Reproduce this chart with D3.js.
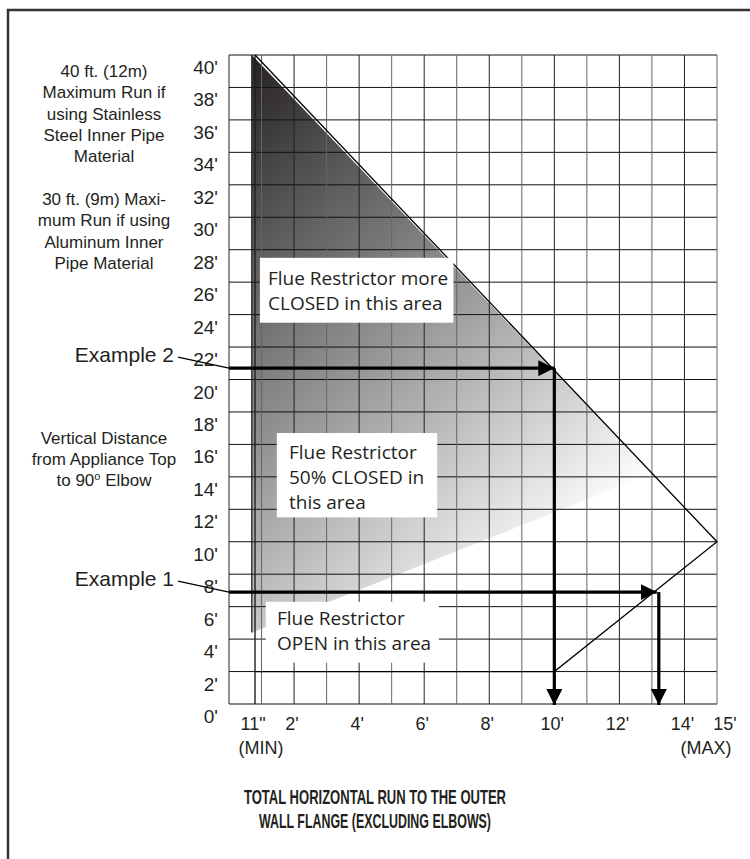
<!DOCTYPE html>
<html>
<head>
<meta charset="utf-8">
<script src="https://cdn.jsdelivr.net/npm/d3@7"></script>
<style>
  body { margin: 0; background: #fff; }
  text { font-family: "Liberation Sans", Arial, sans-serif; fill: #231f20; }
  .box-text { font-family: "Open Sans", "Noto Sans", sans-serif; font-size: 19px; }
</style>
</head>
<body>
<div id="chart"></div>
<script>
// chart values (feet)
var xTickValues = [0.8, 2, 4, 6, 8, 10, 12, 14, 15];
var xTickLabels = ["11\"", "2'", "4'", "6'", "8'", "10'", "12'", "14'", "15'"];
var yTickValues = [0, 2, 4, 6, 8, 10, 12, 14, 16, 18, 20, 22, 24, 26, 28, 30, 32, 34, 36, 38, 40];
var yTickLabels = ["0'", "2'", "4'", "6'", "8'", "10'", "12'", "14'", "16'", "18'", "20'", "22'", "24'", "26'", "28'", "30'", "32'", "34'", "36'", "38'", "40'"];

// allowed area outline: horizontal run vs vertical rise
var limitRun = [0.8, 15, 10, 0.8];
var limitRise = [40, 10, 2, 2];

// shaded "more closed / 50% closed" zone
var shadeRun = [0.7, 13, 0.7];
var shadeRise = [40, 14.2, 4.4];

// worked examples
var exampleNames = ["Example 1", "Example 2"];
var exampleRise = [6.9, 20.7];
var exampleRun = [13.15, 10];

var svgWidth = 750;
var svgHeight = 859;

var margin = { top: 55, right: 33, bottom: 155, left: 229 };
var width = svgWidth - margin.left - margin.right;
var height = svgHeight - margin.top - margin.bottom;

var svg = d3.select("#chart")
  .append("svg")
  .attr("width", svgWidth)
  .attr("height", svgHeight);

// outer frame runs off the right and bottom of the picture
svg.append("rect")
  .attr("x", 8).attr("y", 10)
  .attr("width", 780).attr("height", 900)
  .attr("fill", "none")
  .attr("stroke", "#333")
  .attr("stroke-width", 2.5);

var chartGroup = svg.append("g")
  .attr("transform", `translate(${margin.left}, ${margin.top})`);

var x = d3.scaleLinear().domain([0, 15]).range([0, width]);
var y = d3.scaleLinear().domain([0, 40]).range([height, 0]);

// gradient for the shaded zone
var defs = svg.append("defs");
var grad = defs.append("linearGradient")
  .attr("id", "shade")
  .attr("gradientUnits", "userSpaceOnUse")
  .attr("x1", x(0.75)).attr("y1", y(40))
  .attr("x2", x(12.5)).attr("y2", y(13.2));
grad.append("stop").attr("offset", 0).attr("stop-color", "#262223");
grad.append("stop").attr("offset", 0.55).attr("stop-color", "#9a9a9a");
grad.append("stop").attr("offset", 1).attr("stop-color", "#ffffff");

// arrow head
defs.append("marker")
  .attr("id", "arrow")
  .attr("markerUnits", "userSpaceOnUse")
  .attr("viewBox", "0 0 16 16")
  .attr("refX", 16).attr("refY", 8)
  .attr("markerWidth", 16).attr("markerHeight", 16)
  .attr("orient", "auto")
  .append("path")
  .attr("d", "M0,0L16,8L0,16Z")
  .attr("fill", "#000");

var shadeLine = d3.line().x(d => x(d[0])).y(d => y(d[1]));

chartGroup.append("path")
  .attr("d", shadeLine(d3.zip(shadeRun, shadeRise)) + "Z")
  .attr("fill", "url(#shade)");

chartGroup.append("line")
  .attr("x1", x(shadeRun[0])).attr("x2", x(shadeRun[2]))
  .attr("y1", y(shadeRise[0])).attr("y2", y(shadeRise[2]))
  .attr("stroke", "#3a3a3a")
  .attr("stroke-width", 1.5);

// grid
chartGroup.selectAll(".hgrid")
  .data(yTickValues)
  .enter()
  .append("line")
  .attr("class", "hgrid")
  .attr("x1", 0).attr("x2", width)
  .attr("y1", d => y(d)).attr("y2", d => y(d))
  .attr("stroke", "#111")
  .attr("stroke-width", 1);

chartGroup.selectAll(".vgrid")
  .data(d3.range(0, 16))
  .enter()
  .append("line")
  .attr("class", "vgrid")
  .attr("x1", d => x(d)).attr("x2", d => x(d))
  .attr("y1", 0).attr("y2", height)
  .attr("stroke", (d, i) => i % 2 ? "#666" : "#222")
  .attr("stroke-width", 1);

// minimum run line and outline of allowed area
chartGroup.append("line")
  .attr("x1", x(limitRun[0])).attr("x2", x(limitRun[0]))
  .attr("y1", y(0)).attr("y2", y(40))
  .attr("stroke", "#222")
  .attr("stroke-width", 1.4);

chartGroup.append("path")
  .attr("d", shadeLine(d3.zip(limitRun, limitRise)))
  .attr("fill", "none")
  .attr("stroke", "#000")
  .attr("stroke-width", 1.3);

// white note boxes
var notes = [
  { x0: 0.95, x1: 6.9, y0: 27.5, y1: 23.5, tx: 268, ty: 285, lines: ["Flue Restrictor more", "CLOSED in this area"] },
  { x0: 1.47, x1: 6.4, y0: 16.7, y1: 11.5, tx: 289, ty: 459, lines: ["Flue Restrictor", "50% CLOSED in", "this area"] },
  { x0: 1.13, x1: 6.45, y0: 6.3, y1: 2.55, tx: 277, ty: 625, lines: ["Flue Restrictor", "OPEN in this area"] }
];

notes.forEach(function(n) {
  chartGroup.append("rect")
    .attr("x", x(n.x0)).attr("y", y(n.y0))
    .attr("width", x(n.x1) - x(n.x0))
    .attr("height", y(n.y1) - y(n.y0))
    .attr("fill", "#fff");
  var t = svg.append("text")
    .attr("class", "box-text")
    .attr("x", n.tx).attr("y", n.ty);
  n.lines.forEach(function(l, i) {
    t.append("tspan").attr("x", n.tx).attr("dy", i ? 25 : 0).text(l);
  });
});

// example arrows
exampleNames.forEach(function(name, i) {
  var ey = y(exampleRise[i]);
  var ex = x(exampleRun[i]);

  chartGroup.append("line")
    .attr("x1", 0).attr("x2", ex)
    .attr("y1", ey).attr("y2", ey)
    .attr("stroke", "#000")
    .attr("stroke-width", 3.2)
    .attr("marker-end", "url(#arrow)");

  chartGroup.append("line")
    .attr("x1", ex + (i ? 0 : 2)).attr("x2", ex + (i ? 0 : 2))
    .attr("y1", ey).attr("y2", y(0) + 1)
    .attr("stroke", "#000")
    .attr("stroke-width", 3.2)
    .attr("marker-end", "url(#arrow)");

  svg.append("text")
    .attr("x", 174)
    .attr("y", margin.top + ey - 6)
    .attr("text-anchor", "end")
    .style("font-size", "21px")
    .text(name);

  svg.append("line")
    .attr("x1", 178).attr("y1", margin.top + ey - 11)
    .attr("x2", margin.left).attr("y2", margin.top + ey)
    .attr("stroke", "#000")
    .attr("stroke-width", 1.3);
});

// axis labels
chartGroup.selectAll(".ylab")
  .data(yTickValues)
  .enter()
  .append("text")
  .attr("class", "ylab")
  .attr("x", -11)
  .attr("y", d => y(d) + 19)
  .attr("text-anchor", "end")
  .style("font-size", "19px")
  .text((d, i) => yTickLabels[i]);

chartGroup.selectAll(".xlab")
  .data(xTickValues)
  .enter()
  .append("text")
  .attr("class", "xlab")
  .attr("x", (d, i) => x(d) + (i == xTickValues.length - 1 ? 8 : -2))
  .attr("y", height + 26)
  .attr("text-anchor", "middle")
  .style("font-size", "18px")
  .text((d, i) => xTickLabels[i]);

chartGroup.append("text")
  .attr("x", x(xTickValues[0]) + 6)
  .attr("y", height + 50)
  .attr("text-anchor", "middle")
  .style("font-size", "18px")
  .text("(MIN)");

chartGroup.append("text")
  .attr("x", x(15) - 11)
  .attr("y", height + 50)
  .attr("text-anchor", "middle")
  .style("font-size", "18px")
  .text("(MAX)");

// side notes
var sideNotes = [
  { y: 77, lines: ["40 ft. (12m)", "Maximum Run if", "using Stainless", "Steel Inner Pipe", "Material"] },
  { y: 205, lines: ["30 ft. (9m) Maxi-", "mum Run if using", "Aluminum Inner", "Pipe Material"] }
];
sideNotes.forEach(function(s) {
  var t = svg.append("text")
    .attr("x", 104).attr("y", s.y)
    .attr("text-anchor", "middle")
    .style("font-size", "17px");
  s.lines.forEach(function(l, i) {
    t.append("tspan").attr("x", 104).attr("dy", i ? 21.3 : 0).text(l);
  });
});

var vt = svg.append("text")
  .attr("x", 104).attr("y", 444)
  .attr("text-anchor", "middle")
  .style("font-size", "17px");
vt.append("tspan").attr("x", 104).text("Vertical Distance");
vt.append("tspan").attr("x", 104).attr("dy", 21).text("from Appliance Top");
vt.append("tspan").attr("x", 104).attr("dy", 21).text("to 90");
vt.append("tspan").attr("dy", -6).style("font-size", "11px").text("o");
vt.append("tspan").attr("dy", 6).text(" Elbow");

// x axis title
var title = svg.append("text")
  .attr("text-anchor", "middle")
  .style("font-family", "'Liberation Sans Narrow', 'Liberation Sans', Arial, sans-serif")
  .style("font-weight", "bold")
  .style("font-size", "20px");
title.append("tspan").attr("x", 375).attr("y", 804)
  .attr("textLength", 262).attr("lengthAdjust", "spacingAndGlyphs")
  .text("TOTAL HORIZONTAL RUN TO THE OUTER");
title.append("tspan").attr("x", 375).attr("y", 828)
  .attr("textLength", 232).attr("lengthAdjust", "spacingAndGlyphs")
  .text("WALL FLANGE (EXCLUDING ELBOWS)");
</script>
</body>
</html>
